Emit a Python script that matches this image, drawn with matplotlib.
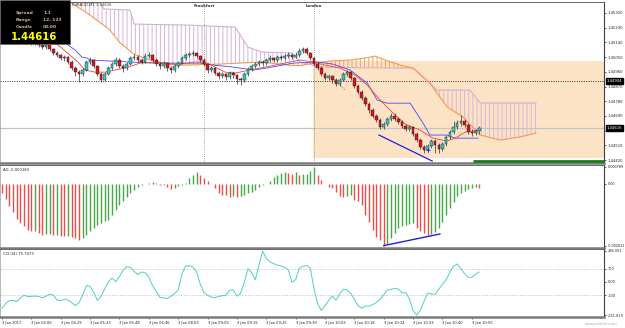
import numpy as np
import matplotlib
matplotlib.use("Agg")
import matplotlib.pyplot as plt
from matplotlib.patches import Rectangle
from matplotlib.transforms import blended_transform_factory

plt.rcParams['font.family'] = ['DejaVu Sans']
plt.rcParams['hatch.linewidth'] = 0.7

# ---------------- data ----------------
first_open = 1.45166
closes = [1.45179, 1.45185, 1.45166, 1.45179, 1.45154, 1.45166, 1.45142, 1.45154, 1.45136, 1.45148,
          1.45124, 1.45111, 1.45124, 1.45099, 1.45075, 1.45062, 1.45044, 1.45050, 1.45020, 1.44983,
          1.44958, 1.44946, 1.44971, 1.45020, 1.45032, 1.44995, 1.44946, 1.44910, 1.44946, 1.44983,
          1.45007, 1.45032, 1.44995, 1.44983, 1.45007, 1.45044, 1.45050, 1.45032, 1.45020, 1.45056,
          1.45062, 1.45032, 1.45007, 1.44995, 1.45013, 1.44983, 1.44971, 1.44995, 1.45013, 1.45044,
          1.45062, 1.45069, 1.45075, 1.45056, 1.45032, 1.45007, 1.44971, 1.44983, 1.44952, 1.44934,
          1.44946, 1.44928, 1.44952, 1.44940, 1.44916, 1.44910, 1.44946, 1.44977, 1.44995, 1.45007,
          1.45020, 1.45013, 1.45032, 1.45044, 1.45032, 1.45050, 1.45044, 1.45056, 1.45062, 1.45050,
          1.45062, 1.45087, 1.45099, 1.45075, 1.45044, 1.45007, 1.44983, 1.44946, 1.44922, 1.44934,
          1.44910, 1.44885, 1.44910, 1.44946, 1.44958, 1.44922, 1.44873, 1.44836, 1.44799, 1.44762,
          1.44726, 1.44689, 1.44665, 1.44622, 1.44640, 1.44671, 1.44689, 1.44671, 1.44652, 1.44628,
          1.44610, 1.44622, 1.44579, 1.44542, 1.44499, 1.44481, 1.44505, 1.44536, 1.44512, 1.44487,
          1.44518, 1.44561, 1.44591, 1.44622, 1.44646, 1.44658, 1.44634, 1.44591, 1.44585, 1.44597,
          1.44616]
highs = [1.45191, 1.45197, 1.45197, 1.45185, 1.45185, 1.45173, 1.45173, 1.45166, 1.45160, 1.45154,
         1.45154, 1.45136, 1.45130, 1.45130, 1.45105, 1.45087, 1.45069, 1.45062, 1.45056, 1.45032,
         1.44995, 1.44971, 1.44983, 1.45032, 1.45050, 1.45038, 1.45001, 1.44958, 1.44958, 1.44995,
         1.45020, 1.45050, 1.45044, 1.45007, 1.45020, 1.45056, 1.45069, 1.45062, 1.45044, 1.45075,
         1.45081, 1.45069, 1.45044, 1.45020, 1.45026, 1.45020, 1.44995, 1.45007, 1.45026, 1.45056,
         1.45075, 1.45081, 1.45093, 1.45081, 1.45062, 1.45044, 1.45013, 1.44995, 1.44989, 1.44965,
         1.44958, 1.44952, 1.44965, 1.44965, 1.44946, 1.44928, 1.44958, 1.44989, 1.45007, 1.45020,
         1.45032, 1.45032, 1.45044, 1.45062, 1.45050, 1.45062, 1.45062, 1.45069, 1.45081, 1.45075,
         1.45081, 1.45105, 1.45111, 1.45111, 1.45081, 1.45050, 1.45020, 1.44995, 1.44958, 1.44946,
         1.44940, 1.44922, 1.44922, 1.44958, 1.44971, 1.44965, 1.44928, 1.44885, 1.44848, 1.44811,
         1.44775, 1.44738, 1.44701, 1.44677, 1.44652, 1.44683, 1.44707, 1.44707, 1.44683, 1.44665,
         1.44640, 1.44634, 1.44628, 1.44591, 1.44554, 1.44512, 1.44518, 1.44548, 1.44548, 1.44524,
         1.44530, 1.44573, 1.44603, 1.44658, 1.44665, 1.44695, 1.44671, 1.44646, 1.44610, 1.44610,
         1.44628]
lows = [1.45154, 1.45166, 1.45154, 1.45154, 1.45142, 1.45142, 1.45130, 1.45136, 1.45124, 1.45124,
        1.45111, 1.45099, 1.45099, 1.45087, 1.45062, 1.45050, 1.45032, 1.45026, 1.45007, 1.44971,
        1.44934, 1.44897, 1.44934, 1.44965, 1.45007, 1.44983, 1.44934, 1.44897, 1.44903, 1.44940,
        1.44971, 1.44995, 1.44983, 1.44958, 1.44971, 1.45001, 1.45032, 1.45020, 1.45007, 1.45013,
        1.45044, 1.45020, 1.44995, 1.44977, 1.44983, 1.44965, 1.44952, 1.44958, 1.44983, 1.45007,
        1.45032, 1.45050, 1.45056, 1.45044, 1.45020, 1.44995, 1.44952, 1.44958, 1.44940, 1.44916,
        1.44922, 1.44910, 1.44916, 1.44922, 1.44885, 1.44879, 1.44897, 1.44934, 1.44965, 1.44983,
        1.44995, 1.44995, 1.45001, 1.45020, 1.45020, 1.45020, 1.45032, 1.45032, 1.45044, 1.45038,
        1.45044, 1.45050, 1.45075, 1.45062, 1.45032, 1.44995, 1.44971, 1.44934, 1.44910, 1.44910,
        1.44891, 1.44873, 1.44873, 1.44903, 1.44934, 1.44910, 1.44860, 1.44824, 1.44787, 1.44750,
        1.44707, 1.44677, 1.44652, 1.44610, 1.44610, 1.44628, 1.44658, 1.44658, 1.44640, 1.44616,
        1.44597, 1.44597, 1.44567, 1.44530, 1.44487, 1.44463, 1.44469, 1.44493, 1.44463, 1.44463,
        1.44475, 1.44505, 1.44548, 1.44579, 1.44610, 1.44628, 1.44622, 1.44579, 1.44567, 1.44573,
        1.44579]

ao_values = [-0.000410, -0.000684, -0.001026, -0.001300, -0.001596, -0.001778, -0.001915, -0.002098, -0.002166, -0.002143,
             -0.002234, -0.002326, -0.002303, -0.002280, -0.002348, -0.002326, -0.002371, -0.002394, -0.002371, -0.002417,
             -0.002462, -0.002554, -0.002462, -0.002326, -0.002166, -0.002006, -0.001870, -0.001778, -0.001710, -0.001642,
             -0.001414, -0.001186, -0.000980, -0.000798, -0.000616, -0.000433, -0.000274, -0.000137, -0.000068, -0.000023,
             0.000023, 0.000068, 0.000055, -0.000046, -0.000068, -0.000137, -0.000228, -0.000182, -0.000091, -0.000046,
             0.000023, 0.000274, 0.000410, 0.000524, 0.000410, 0.000274, 0.000137, -0.000023, -0.000182, -0.000410,
             -0.000502, -0.000524, -0.000593, -0.000570, -0.000593, -0.000547, -0.000502, -0.000410, -0.000365, -0.000296,
             -0.000137, -0.000046, 0.000005, 0.000114, 0.000319, 0.000410, 0.000479, 0.000547, 0.000502, 0.000456,
             0.000524, 0.000410, 0.000433, 0.000456, 0.000570, 0.000789, 0.000410, 0.000182, -0.000023, -0.000137,
             -0.000182, -0.000365, -0.000547, -0.000593, -0.000547, -0.000502, -0.000730, -0.000775, -0.000958, -0.001414,
             -0.001733, -0.002098, -0.002417, -0.002554, -0.002812, -0.002736, -0.002462, -0.002234, -0.002006, -0.001915,
             -0.001870, -0.001824, -0.001778, -0.002006, -0.002143, -0.002234, -0.002326, -0.002280, -0.002189, -0.002006,
             -0.001733, -0.001414, -0.001094, -0.000820, -0.000560, -0.000400, -0.000300, -0.000230, -0.000190, -0.000160,
             -0.000183]

cci_values = [-202.2, -164.1, -142.0, -139.7, -149.6, -122.1, -101.6, -111.5, -110.0, -107.7,
              -111.5, -120.6, -109.2, -93.9, -99.3, -138.9, -142.7, -131.3, -138.9, -158.0,
              -180.8, -157.2, -97.0, -26.9, -33.7, -79.5, -141.2, -108.4, -49.8, 2.8,
              30.3, 2.1, 40.9, 91.2, 116.4, 109.5, 79.8, 56.9, 75.2, 72.2,
              36.4, -26.1, -71.8, -116.8, -122.1, -124.4, -110.0, -88.6, -61.2, 58.5,
              121.7, 124.0, 114.8, 79.8, -17.0, -81.8, -100.8, -116.0, -120.6, -110.7,
              -104.6, -100.8, -62.7, -61.2, -108.4, -86.3, -4.0, 101.1, 72.9, 15.0,
              129.3, 236.001, 179.6, 153.7, 139.2, 129.3, 120.9, 112.6, 91.2, -3.3,
              18.8, 104.2, 119.4, 125.5, 106.5, -52.8, -167.1, -217.4, -180.8, -140.4,
              -106.9, -138.9, -90.1, -55.1, -60.4, -84.8, -133.6, -182.3, -199.9, -183.1,
              -183.1, -173.2, -154.9, -133.6, -96.2, -61.2, -56.6, -47.5, -54.3, -81.8,
              -81.8, -129.8, -219.7, -251.819, -213.6, -145.0, -84.0, -91.7, -93.2, -55.1,
              -17.0, 16.5, 73.7, 120.9, 136.9, 101.9, 63.8, 35.6, 35.6, 58.5,
              75.7473]

# Ichimoku (read at common bar positions)
cloud_x = [18.5, 24.0, 26.7, 27.8, 29.4, 32.2, 34.9, 36.0, 40.3, 44.4, 48.5, 50.4, 59.4, 63.5, 67.0, 70.8,
           75.8, 79.0, 81.2, 84.7, 86.7, 89.4, 94.8, 98.9, 101.6, 104.4, 108.5, 112.0, 116.6, 118.5, 121.3,
           125.6, 127.5, 130.3, 135.7, 141.1, 145.5]
span_a = [1.45387, 1.45307, 1.45261, 1.45243, 1.45215, 1.45136, 1.45087, 1.45067, 1.45032, 1.45013, 1.45001,
          1.45001, 1.45007, 1.45012, 1.45016, 1.45019, 1.45007, 1.44999, 1.44998, 1.45013, 1.45018, 1.45026,
          1.45032, 1.45044, 1.45056, 1.45032, 1.45001, 1.44983, 1.44891, 1.44830, 1.44744, 1.44683, 1.44638,
          1.44573, 1.44542, 1.44561, 1.44585]
span_b = [1.45387, 1.45382, 1.45381, 1.45344, 1.45343, 1.45340, 1.45338, 1.45252, 1.45250, 1.45248, 1.45247,
          1.45246, 1.45237, 1.45234, 1.45111, 1.45081, 1.45077, 1.45075, 1.45020, 1.45000, 1.44989, 1.44988,
          1.44986, 1.44985, 1.44985, 1.44983, 1.44983, 1.44983, 1.44887, 1.44848, 1.44848, 1.44848, 1.44848,
          1.44769, 1.44769, 1.44769, 1.44769]
tenkan_x = [11.7, 14.4, 16.3, 18.5, 20.7, 22.6, 25.3, 28.1, 30.8, 33.5, 37.6, 41.7, 44.4, 48.5, 52.6, 55.3,
            58.0, 60.8, 63.5, 67.6, 71.7, 74.4, 78.5, 81.2, 84.7, 88.0, 92.1, 96.2, 99.5, 103.0, 106.3, 109.8,
            113.9, 117.4, 121.3, 124.0, 126.2, 129.7]
tenkan = [1.45185, 1.45136, 1.45105, 1.45062, 1.45020, 1.44971, 1.44958, 1.44958, 1.44971, 1.44983, 1.45013,
          1.45020, 1.45007, 1.45007, 1.45020, 1.45020, 1.44989, 1.44958, 1.44952, 1.44971, 1.44989, 1.45001,
          1.45020, 1.45032, 1.45020, 1.45001, 1.44983, 1.44940, 1.44879, 1.44787, 1.44713, 1.44640, 1.44603,
          1.44554, 1.44536, 1.44561, 1.44591, 1.44603]
kijun_x = [15.8, 18.0, 19.9, 21.8, 23.2, 24.0, 29.4, 41.1, 54.0, 57.5, 62.9, 68.4, 72.2, 79.3, 85.8, 90.2,
           94.8, 99.5, 102.2, 104.9, 111.2, 114.7, 116.6, 121.3, 123.4, 129.7]
kijun = [1.45154, 1.45124, 1.45093, 1.45050, 1.45044, 1.45032, 1.45026, 1.45013, 1.45013, 1.45001, 1.44989,
         1.44971, 1.44983, 1.45013, 1.45020, 1.45007, 1.44971, 1.44891, 1.44787, 1.44768, 1.44768, 1.44646,
         1.44573, 1.44573, 1.44554, 1.44554]
chikou_x = [90.2, 93.5]
chikou = [1.44922, 1.44848]

price_trend_x = [102.7, 117.2]
price_trend_y = [1.44573, 1.44414]
ao_trend_x = [104.0, 119.3]
ao_trend_y = [-0.002812, -0.002280]
marker_x, marker_y = 116.1, 1.44481

session_names = ['Frankfurt', 'London']
session_idx = [55, 85]
zone_start = 84.7
zone_top, zone_bottom = 1.45026, 1.44432
progress_start, progress_level = 128.3, 1.44414
bid_price = 1.44616
level_price = 1.44904

price_ticks = [1.44420, 1.44510, 1.44600, 1.44690, 1.44780, 1.44870, 1.44960, 1.45050, 1.45140, 1.45230, 1.45320]
ao_ticks = [0.000789, 0.0, -0.002812]
ao_tick_labels = ['0.000789', '0.00', '-0.002812']
cci_ticks = [236.001, 100, 0, -100, -251.819]
cci_tick_labels = ['236.001', '100', '0.00', '-100', '-251.819']
date_ticks = [0, 8, 16, 24, 32, 40, 48, 56, 64, 72, 80, 88, 96, 104, 112, 120, 128]
date_labels = ['3 Jan 2017', '3 Jan 04:06', '3 Jan 04:29', '3 Jan 05:23', '3 Jan 05:48', '3 Jan 06:46',
               '3 Jan 08:03', '3 Jan 09:05', '3 Jan 09:15', '3 Jan 09:25', '3 Jan 09:39', '3 Jan 10:03',
               '3 Jan 10:18', '3 Jan 10:24', '3 Jan 10:33', '3 Jan 10:40', '3 Jan 10:55']

# ---------------- figure ----------------
W, H = 625, 328
fig = plt.figure(figsize=(W / 100, H / 100), dpi=100)
fig.patch.set_facecolor('white')


def fx(px):
    return px / W


def fy(py):
    return 1 - py / H


XR = 604
ax_p = fig.add_axes([0, fy(163), fx(XR), (163 - 2) / H])
ax_ao = fig.add_axes([0, fy(248), fx(XR), (248 - 165) / H])
ax_c = fig.add_axes([0, fy(317), fx(XR), (317 - 249) / H])

xlim = (-0.55, 164.0)
for ax in (ax_p, ax_ao, ax_c):
    ax.set_xlim(*xlim)
    ax.set_facecolor('white')
    ax.yaxis.tick_right()
    ax.tick_params(axis='y', direction='out', length=1.6, width=0.5, labelsize=2.7, pad=0.8, colors='#222222')
    ax.spines['left'].set_color('#9a9a9a')
    ax.spines['left'].set_linewidth(0.5)
    ax.spines['right'].set_color('#404040')
    ax.spines['right'].set_linewidth(0.8)
    ax.spines['top'].set_color('#505050')
    ax.spines['top'].set_linewidth(0.6)
    ax.spines['bottom'].set_color('#7a7a7a')
    ax.spines['bottom'].set_linewidth(1.8)

ax_p.tick_params(axis='x', length=0, labelbottom=False)
ax_ao.tick_params(axis='x', length=0, labelbottom=False)
ax_p.set_xticks([])
ax_ao.set_xticks([])

# ---------------- price panel ----------------
ax_p.set_ylim(1.44402, 1.45387)
ax_p.fill_between([zone_start, xlim[1] + 5], zone_bottom, zone_top, color='#fde3c6', lw=0, zorder=0)

cx = np.array(cloud_x)
sa = np.array(span_a)
sb = np.array(span_b)
ax_p.fill_between(cx, sa, sb, where=sb >= sa, interpolate=True, facecolor='none',
                  edgecolor='#d8b4d8', hatch='||||', lw=0, zorder=1)
ax_p.fill_between(cx, sa, sb, where=sa > sb, interpolate=True, facecolor='none',
                  edgecolor='#f4a460', hatch='||||', lw=0, zorder=1)
ax_p.plot(cx, sb, color='#d4aed4', lw=0.8, zorder=2)
ax_p.plot(cx, sa, color='#f39a50', lw=0.8, zorder=2)

ax_p.axhline(bid_price, color='#c4c4c4', lw=0.9, zorder=1.5)
ax_p.axhline(level_price, color='#111111', lw=0.6, ls=(0, (1.2, 1.6)), zorder=1.5)

for name, si in zip(session_names, session_idx):
    ax_p.axvline(si, color='#8c8c50', lw=0.6, ls=(0, (1, 1.6)), zorder=1.5)
    ax_p.text(si, 0.985, name, transform=blended_transform_factory(ax_p.transData, ax_p.transAxes),
              ha='center', va='top', fontsize=2.9, fontweight='bold', color='#333333', zorder=8)

ax_p.plot(kijun_x, kijun, color='#4848f0', lw=0.6, zorder=3)
ax_p.plot(tenkan_x, tenkan, color='#f04040', lw=0.6, zorder=3)
ax_p.plot(chikou_x, chikou, color='#f06060', lw=0.7, ls=(0, (1, 1)), zorder=3)

opens = [first_open] + closes[:-1]
for i in range(len(closes)):
    o, c, h, l = opens[i], closes[i], highs[i], lows[i]
    ax_p.vlines(i, l, h, color='#1a1a1a', lw=0.45, zorder=4)
    up = c >= o
    body = max(abs(c - o), 0.00002)
    ax_p.add_patch(Rectangle((i - 0.36, min(o, c)), 0.72, body,
                             facecolor='#35c6c6' if up else '#e0141c',
                             edgecolor='#1a1a1a', lw=0.3, zorder=5))

ax_p.plot(price_trend_x, price_trend_y, color='#2020e0', lw=0.9, zorder=6)
ax_p.plot([marker_x], [marker_y], marker='+', color='#2020e0', ms=2.5, mew=0.6, zorder=6)
ax_p.hlines(progress_level, progress_start, xlim[1], color='#1a7d1a', lw=2.0, zorder=7, clip_on=False)

ax_p.set_yticks(price_ticks)
ax_p.set_yticklabels([f'{v:.5f}' for v in price_ticks])

trp = blended_transform_factory(ax_p.transAxes, ax_p.transData)
for v in (level_price, bid_price):
    ax_p.text(1.005, v, f'{v:.5f}', transform=trp, fontsize=2.7, color='white', va='center', ha='left',
              bbox=dict(boxstyle='square,pad=0.2', fc='black', ec='black'), zorder=10, clip_on=False)

# ---------------- AO panel ----------------
ao = np.array(ao_values)
ax_ao.set_ylim(-0.00292, 0.000866)
prev = np.concatenate([[ao[0] + 1e-9], ao[:-1]])
colors = np.where(ao >= prev, '#45a845', '#f04a4a')
ax_ao.vlines(np.arange(len(ao)), 0, ao, colors=colors, lw=1.0, zorder=3)
ax_ao.plot(ao_trend_x, ao_trend_y, color='#2020e0', lw=1.0, zorder=4)
ax_ao.set_yticks(ao_ticks)
ax_ao.set_yticklabels(ao_tick_labels)
ax_ao.tick_params(axis='y', labelsize=2.4)
ax_ao.text(0.005, 0.96, f'AO {ao_values[-1]:.6f}', transform=ax_ao.transAxes, fontsize=2.7,
           color='#222222', va='top', ha='left')

# ---------------- CCI panel ----------------
ax_c.set_ylim(-266.9, 251.2)
ax_c.axhline(100, color='#b8b8b8', lw=0.5, ls=(0, (2, 2)), zorder=1)
ax_c.axhline(-100, color='#b8b8b8', lw=0.5, ls=(0, (2, 2)), zorder=1)
ax_c.plot(np.arange(len(cci_values)), cci_values, color='#4ccfc6', lw=0.7, zorder=3)
ax_c.set_yticks(cci_ticks)
ax_c.set_yticklabels(cci_tick_labels)
ax_c.tick_params(axis='y', labelsize=2.5)
ax_c.text(0.005, 0.96, f'CCI(14) {cci_values[-1]:.4f}', transform=ax_c.transAxes, fontsize=2.7,
          color='#222222', va='top', ha='left')
ax_c.set_xticks(date_ticks)
ax_c.set_xticklabels(date_labels)
ax_c.tick_params(axis='x', direction='out', length=1.5, width=0.5, labelsize=2.6, pad=1.2, colors='#222222')
for lbl in ax_c.get_xticklabels():
    lbl.set_ha('left')

# ---------------- overlays ----------------
fig.add_artist(Rectangle((0, fy(44)), fx(70), 44 / H, transform=fig.transFigure,
                         facecolor='black', edgecolor='#606060', lw=0.5, zorder=20))
tan = '#cdb88e'
for row_y, lab, val in [(13, 'Spread', '1.1'), (20, 'Range', '12, 123'), (27, 'Candle', '03:00')]:
    fig.text(fx(16), fy(row_y), lab, fontsize=3.2, fontweight='bold', color=tan, va='center', ha='left', zorder=21)
    fig.text(fx(43), fy(row_y), val, fontsize=3.2, fontweight='bold', color=tan, va='center', ha='left', zorder=21)
fig.text(fx(34), fy(37), f'{closes[-1]:.5f}', fontsize=7.2, fontweight='bold', color='#ffff00',
         va='center', ha='center', zorder=21)
fig.text(fx(72), fy(4.5), f'EURAUD,M1 {closes[-1]:.5f}', fontsize=2.7, color='#333333', va='center', ha='left', zorder=21)
fig.text(fx(618), fy(324), 'www.pictick.com', fontsize=2.8, color='#aaaaaa', va='center', ha='right')

fig.savefig('out.png', dpi=100, facecolor='white')
